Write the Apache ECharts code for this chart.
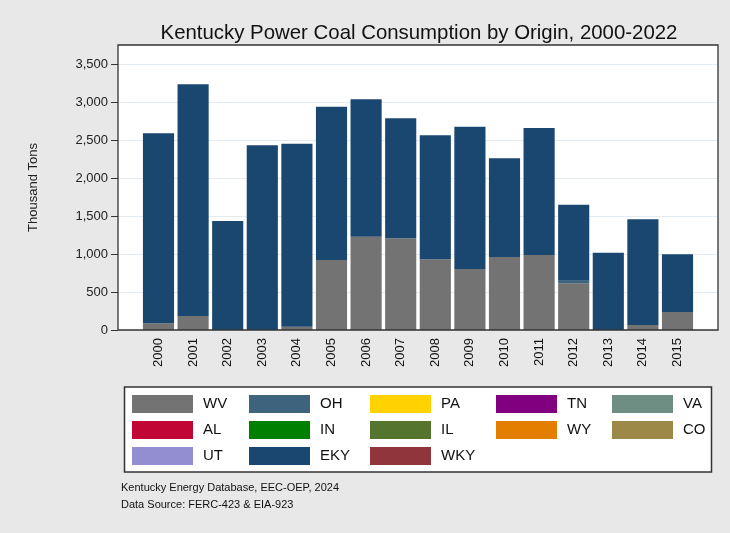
<!DOCTYPE html>
<html><head><meta charset="utf-8">
<script src="https://cdn.jsdelivr.net/npm/echarts@6/dist/echarts.min.js"></script>
<style>html,body{margin:0;padding:0;background:#e8e8e8}#c{width:730px;height:533px}</style>
</head><body><div id="c"></div>
<script>
const years = ['2000','2001','2002','2003','2004','2005','2006','2007','2008','2009','2010','2011','2012','2013','2014','2015'];
const yTicks = [0, 500, 1000, 1500, 2000, 2500, 3000, 3500];
const WV  = [88, 184, 0, 0, 44, 921, 1228, 1206, 930, 803, 961, 987, 614, 0, 66, 237];
const OH  = [0, 0, 0, 0, 0, 0, 0, 0, 0, 0, 0, 0, 35, 0, 0, 0];
const EKY = [2500, 3048, 1434, 2430, 2408, 2018, 1807, 1579, 1631, 1872, 1298, 1671, 1000, 1017, 1391, 759];
const seriesNames = ['WV','OH','PA','TN','VA','AL','IN','IL','WY','CO','UT','EKY','WKY'];
const seriesData = {WV: WV, OH: OH, EKY: EKY};
const colors = {WV:'#737373', OH:'#3e647d', PA:'#ffd200', TN:'#800080', VA:'#6e8e84', AL:'#c10534', IN:'#008000', IL:'#55752f', WY:'#e37e00', CO:'#9c8847', UT:'#938dd2', EKY:'#1a476f', WKY:'#90353b'};
const legendCols = [['WV','AL','UT'],['OH','IN','EKY'],['PA','IL','WKY'],['TN','WY'],['VA','CO']];
const legendLefts = [132, 249, 370, 496, 612];

const FONT = '"Liberation Sans", Arial, sans-serif';
const chart = echarts.init(document.getElementById('c'), null, {renderer:'canvas'});
const fmt = v => Number(v).toLocaleString('en-US');

const option = {
  backgroundColor: '#e8e8e8',
  animation: false,
  textStyle: {fontFamily: FONT},
  title: [
    {text: 'Kentucky Power Coal Consumption by Origin, 2000-2022', left: 414, top: 18, textAlign: 'center',
     textStyle: {fontFamily: FONT, fontSize: 20.4, fontWeight: 'normal', color: '#111'}},
    {text: 'Kentucky Energy Database, EEC-OEP, 2024\nData Source: FERC-423 & EIA-923', left: 121, top: 479, padding: 0,
     textStyle: {fontFamily: FONT, fontSize: 11, fontWeight: 'normal', color: '#111', lineHeight: 17}}
  ],
  grid: [
    {left: 118, top: 45, width: 600, height: 285, show: true, backgroundColor: '#fff', borderWidth: 0},
    {left: 141.2, top: 45, width: 553.6, height: 285}
  ],
  xAxis: [
    {gridIndex: 0, type: 'value', show: false, min: 0, max: 1},
    {gridIndex: 1, type: 'category', data: years,
     axisLine: {show: false}, axisTick: {show: false},
     axisLabel: {rotate: 90, margin: 8, fontSize: 13, color: '#111', fontFamily: FONT}}
  ],
  yAxis: [
    {gridIndex: 0, type: 'value', min: 0, max: 3750, interval: 500,
     name: 'Thousand Tons', nameLocation: 'middle', nameGap: 78, nameRotate: 90,
     nameTextStyle: {fontSize: 13, color: '#222', fontFamily: FONT},
     axisLine: {show: false},
     axisTick: {show: true, length: 7, lineStyle: {color: '#333'}, customValues: yTicks},
     axisLabel: {fontSize: 13, color: '#222', margin: 10, fontFamily: FONT, formatter: fmt, customValues: yTicks},
     splitLine: {show: true, lineStyle: {color: '#e3ecf2', width: 1}}},
    {gridIndex: 1, type: 'value', min: 0, max: 3750, show: false, splitLine: {show: false}}
  ],
  legend: legendCols.map((col, i) => ({
    orient: 'vertical', left: legendLefts[i], top: 395, padding: 0,
    itemWidth: 61, itemHeight: 18, itemGap: 8, icon: 'rect', selectedMode: false,
    data: col,
    textStyle: {fontSize: 15, color: '#111', fontFamily: FONT, padding: [0, 0, 0, 5]}
  })),
  graphic: [
    {type: 'rect', shape: {x: 124.5, y: 387, width: 587, height: 85}, z: -10,
     style: {fill: '#fff', stroke: '#333', lineWidth: 1.5}},
    {type: 'rect', shape: {x: 118, y: 45, width: 600, height: 285}, z: 100,
     style: {fill: 'none', stroke: '#333', lineWidth: 1.3}}
  ],
  series: seriesNames.map(n => ({
    name: n, type: 'bar', stack: 'total', xAxisIndex: 1, yAxisIndex: 1,
    barCategoryGap: '10%',
    itemStyle: {color: colors[n]},
    data: seriesData[n] || []
  }))
};
chart.setOption(option);
</script></body></html>
